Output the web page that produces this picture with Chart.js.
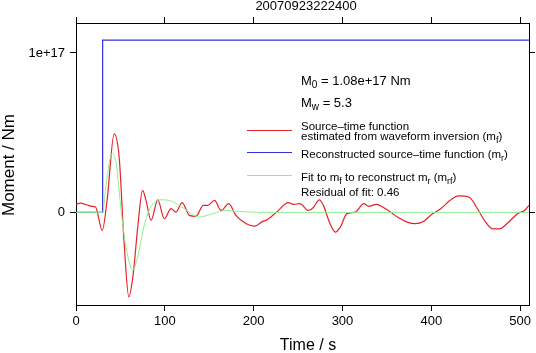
<!DOCTYPE html>
<html>
<head>
<meta charset="utf-8">
<script src="https://cdn.jsdelivr.net/npm/chart.js@4"></script>
<style>
  html, body { margin: 0; padding: 0; background: #fff; }
  #wrap { width: 536px; height: 353px; }
</style>
</head>
<body>
<div id="wrap"><canvas id="chart" width="536" height="353"></canvas></div>
<script>
// Data (moment in units of 1e17 Nm, time in s)
const redTime = [0, 5, 18, 22, 29.5, 35, 43, 48.6, 54, 59.5, 64.5, 69.5, 75, 78.8, 84.5, 92, 99.5, 107, 112.6, 119.4,
  127.7, 135, 143.4, 148.3, 155.9, 163.4, 172, 180, 191.7, 201, 210.7, 214, 226, 239, 245, 252, 261.7, 267, 274,
  278.5, 286, 292, 297.6, 305, 314.6, 324, 329.6, 337.9, 346.6, 354, 361.8, 373, 382, 391.6, 399, 410.6, 422, 431,
  442.6, 452, 459.8, 469, 476.8, 486, 497, 505, 510];
const redMoment = [0.050, 0.058, 0.038, 0.034, -0.113, 0.075, 0.493, 0.346, -0.176, -0.531, -0.383, -0.092, 0.138,
  0.075, -0.050, 0.079, -0.040, 0.023, 0.002, 0.061, -0.019, -0.025, 0.044, 0.044, 0.075, 0.012, 0.055, -0.019,
  -0.071, -0.086, -0.055, -0.050, 0.002, 0.061, 0.050, 0.055, 0.012, 0.029, 0.079, 0.044, -0.071, -0.124, -0.092,
  -0.008, 0.002, 0.055, 0.038, 0.050, 0.029, 0.002, -0.029, -0.061, -0.071, -0.055, -0.019, 0.023, 0.079, 0.103,
  0.095, 0.023, -0.050, -0.103, -0.103, -0.067, -0.008, 0.012, 0.044];

const blueTime = [0, 30, 30, 510];
const blueMoment = [0, 0, 1.08, 1.08];

const greenTime = [0, 30, 34, 40.6, 45.3, 50.8, 56.3, 64, 69.3, 77.3, 84.3, 94.3, 105.3, 119, 139, 154, 169, 184, 207, 300, 400, 510];
const greenMoment = [0, 0, 0.180, 0.371, 0.305, 0.012, -0.217, -0.363, -0.280, -0.071, 0.034, 0.079, 0.075, 0.034,
  -0.029, -0.008, 0.012, 0.006, 0, 0, 0, 0];

const xTicks = [0, 100, 200, 300, 400, 500];
const yTicks = [0, 1];
const yTickLabels = ['0', '1e+17'];

const FONT = "'Liberation Sans', Arial, Helvetica, sans-serif";

function pts(xs, ys) {
  return xs.map((x, i) => ({ x: x, y: ys[i] }));
}

// Fixed layout for the plot box
function fixSize(w, h) {
  return function(scale) {
    if (w !== null) scale.width = w;
    if (h !== null) scale.height = h;
  };
}

// Legend and titles drawn on the canvas
const annotations = {
  id: 'annotations',
  afterDraw(chart) {
    const ctx = chart.ctx;
    const area = chart.chartArea;
    ctx.save();
    ctx.fillStyle = '#000';
    ctx.textBaseline = 'alphabetic';

    // title
    ctx.font = '13px ' + FONT;
    ctx.textAlign = 'center';
    ctx.fillText('20070923222400', 306, 10);

    // axis titles
    ctx.font = '16px ' + FONT;
    ctx.fillText('Time / s', 308, 350);
    ctx.save();
    ctx.translate(14, 165);
    ctx.rotate(-Math.PI / 2);
    ctx.font = '17px ' + FONT;
    ctx.fillText('Moment / Nm', 0, 0);
    ctx.restore();

    ctx.textAlign = 'left';
    const tx = 301;

    function sub(main, s, x, y, size) {
      ctx.font = size + 'px ' + FONT;
      ctx.fillText(main, x, y);
      x += ctx.measureText(main).width;
      ctx.font = Math.round(size * 0.75) + 'px ' + FONT;
      ctx.fillText(s, x, y + 3);
      return x + ctx.measureText(s).width;
    }
    function txt(t, x, y, size) {
      ctx.font = size + 'px ' + FONT;
      ctx.fillText(t, x, y);
      return x + ctx.measureText(t).width;
    }

    let x = sub('M', '0', tx, 85, 13);
    txt(' = 1.08e+17 Nm', x, 85, 13);
    x = sub('M', 'w', tx, 107, 13);
    txt(' = 5.3', x, 107, 13);

    const fs = 11.5;
    txt('Source\u2013time function', tx, 130, fs);
    x = txt('estimated from waveform inversion (m', tx, 140, fs);
    x = sub('', 'f', x, 140, fs);
    txt(')', x, 140, fs);

    x = txt('Reconstructed source\u2013time function (m', tx, 158, fs);
    x = sub('', 'r', x, 158, fs);
    txt(')', x, 158, fs);

    x = txt('Fit to m', tx, 181, fs);
    x = sub('', 'f', x, 181, fs);
    x = txt(' to reconstruct m', x, 181, fs);
    x = sub('', 'r', x, 181, fs);
    x = txt(' (m', x, 181, fs);
    x = sub('', 'rf', x, 181, fs);
    txt(')', x, 181, fs);
    txt('Residual of fit: 0.46', tx, 196, fs);

    // legend line samples
    const samples = [['#e8202a', 130], ['#3030e0', 152], ['#90ee90', 175]];
    samples.forEach(s => {
      ctx.strokeStyle = s[0];
      ctx.lineWidth = 1;
      ctx.beginPath();
      ctx.moveTo(247, s[1] + 0.5);
      ctx.lineTo(292, s[1] + 0.5);
      ctx.stroke();
    });
    ctx.restore();
  }
};

const axisCommon = {
  type: 'linear',
  grid: { display: true, drawOnChartArea: false, drawTicks: true, tickLength: 6, color: '#000' },
  border: { display: true, color: '#000', width: 1 }
};

new Chart(document.getElementById('chart'), {
  type: 'line',
  data: {
    datasets: [
      { data: pts(greenTime, greenMoment), borderColor: '#90ee90', borderWidth: 1, pointRadius: 0,
        cubicInterpolationMode: 'monotone' },
      { data: pts(redTime, redMoment), borderColor: '#e8202a', borderWidth: 1.2, pointRadius: 0,
        cubicInterpolationMode: 'monotone' },
      { data: pts(blueTime, blueMoment), borderColor: '#3030e0', borderWidth: 1.2, pointRadius: 0, tension: 0 }
    ]
  },
  options: {
    responsive: false,
    animation: false,
    layout: { padding: 0 },
    plugins: { legend: { display: false }, tooltip: { enabled: false } },
    scales: {
      x: Object.assign({}, axisCommon, {
        position: 'bottom', min: 0, max: 510,
        afterBuildTicks: s => { s.ticks = xTicks.map(v => ({ value: v })); },
        afterFit: fixSize(null, 48),
        ticks: { font: { family: FONT, size: 13 }, color: '#000', padding: 3, maxRotation: 0 }
      }),
      x2: Object.assign({}, axisCommon, {
        position: 'top', min: 0, max: 510,
        afterBuildTicks: s => { s.ticks = xTicks.map(v => ({ value: v })); },
        afterFit: fixSize(null, 23),
        ticks: { display: false }
      }),
      y: Object.assign({}, axisCommon, {
        position: 'left', min: -0.581, max: 1.188,
        afterBuildTicks: s => { s.ticks = yTicks.map(v => ({ value: v })); },
        afterFit: fixSize(76, null),
        ticks: { font: { family: FONT, size: 13 }, color: '#000', padding: 5,
          callback: v => yTickLabels[yTicks.indexOf(v)] }
      }),
      y2: Object.assign({}, axisCommon, {
        position: 'right', min: -0.581, max: 1.188,
        afterBuildTicks: s => { s.ticks = yTicks.map(v => ({ value: v })); },
        afterFit: fixSize(7, null),
        ticks: { display: false }
      })
    }
  },
  plugins: [annotations]
});
</script>
</body>
</html>
